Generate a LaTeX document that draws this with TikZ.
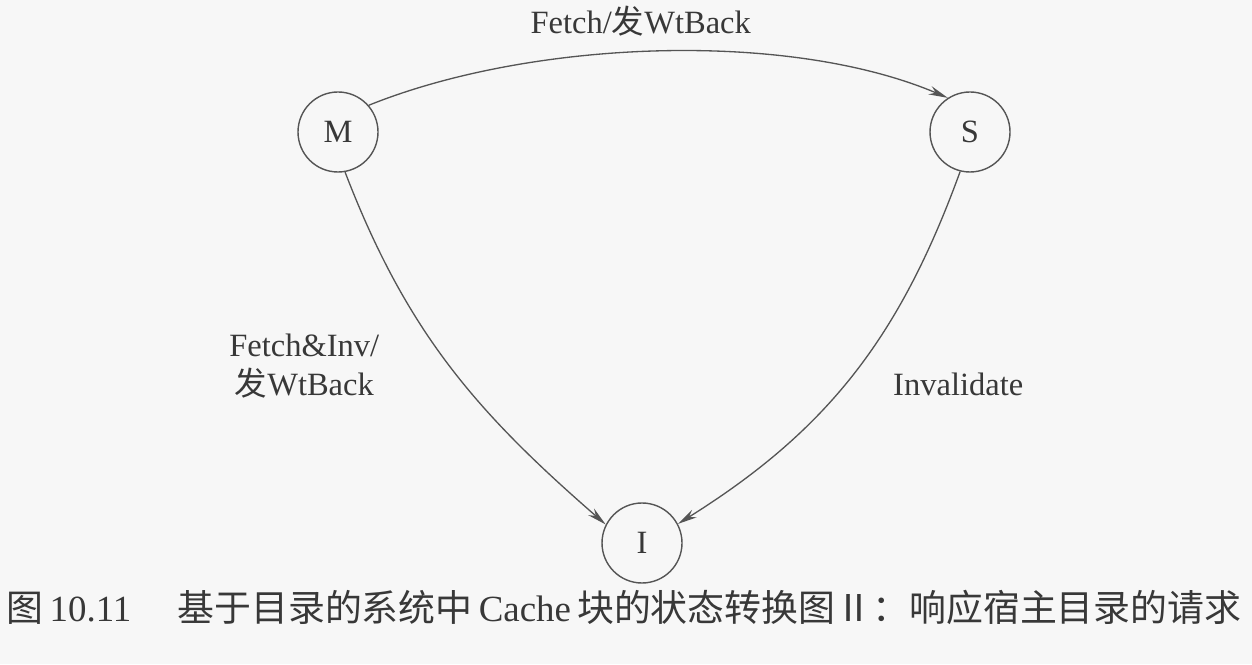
\documentclass[tikz,border=0pt]{standalone}
\usepackage{fontspec}
\setmainfont{Liberation Serif}
\newfontfamily\cjk{Noto Sans CJK SC}
\usetikzlibrary{arrows.meta}
\definecolor{inkline}{HTML}{555555}
\definecolor{inktext}{HTML}{383838}
\definecolor{paper}{HTML}{F7F7F7}
\begin{document}
\begin{tikzpicture}[node distance=12.64cm, auto,
    cstate/.style={draw=inkline, line width=0.8pt, circle, minimum size=1.6cm, inner sep=0pt,
                   text=inktext, font=\fontsize{18.5}{22}\selectfont},
    trans/.style={-{Stealth[length=11pt,width=5pt]}, draw=inkline, line width=0.75pt},
    lbl/.style={text=inktext, font=\fontsize{18.5}{22}\selectfont, align=center, inner sep=0pt}]
        % Page
        \fill[paper] (0,0) rectangle (25.04,13.28);
        \useasboundingbox (0,0) rectangle (25.04,13.28);
        % Nodes
        \node (M) [cstate] at (6.76,10.64) {M};
        \node (S) [cstate, right of=M] {S};
        \node (I) [cstate] at (12.84,2.42) {I};
        % Edges
        \draw[trans] (M.41) to[out=22, in=157, looseness=0.77]
            node[lbl, pos=0.5, xshift=-0.36cm, yshift=0.30cm] (lMS) {Fetch/{\cjk 发}WtBack} (S.123);
        \draw[trans] (M.280) to[out=-69, in=139]
            node[lbl, pos=0.5, left=1.4cm] (lMI) {Fetch\&Inv/\\{\cjk 发}WtBack} (I.153);
        \draw[trans] (S.256) to[out=250, in=32]
            node[lbl, pos=0.5, right=0.8cm, yshift=-0.2cm] (lSI) {Invalidate} (I.28);
        % Caption
        \node (cap) [text=inktext, font=\fontsize{21}{25}\selectfont] at (12.48,1.14)
            {{\cjk 图}\,10.11\quad\ {\cjk 基于目录的系统中}\,Cache\,{\cjk 块的状态转换图Ⅱ：响应宿主目录的请求}};
\end{tikzpicture}
\end{document}
